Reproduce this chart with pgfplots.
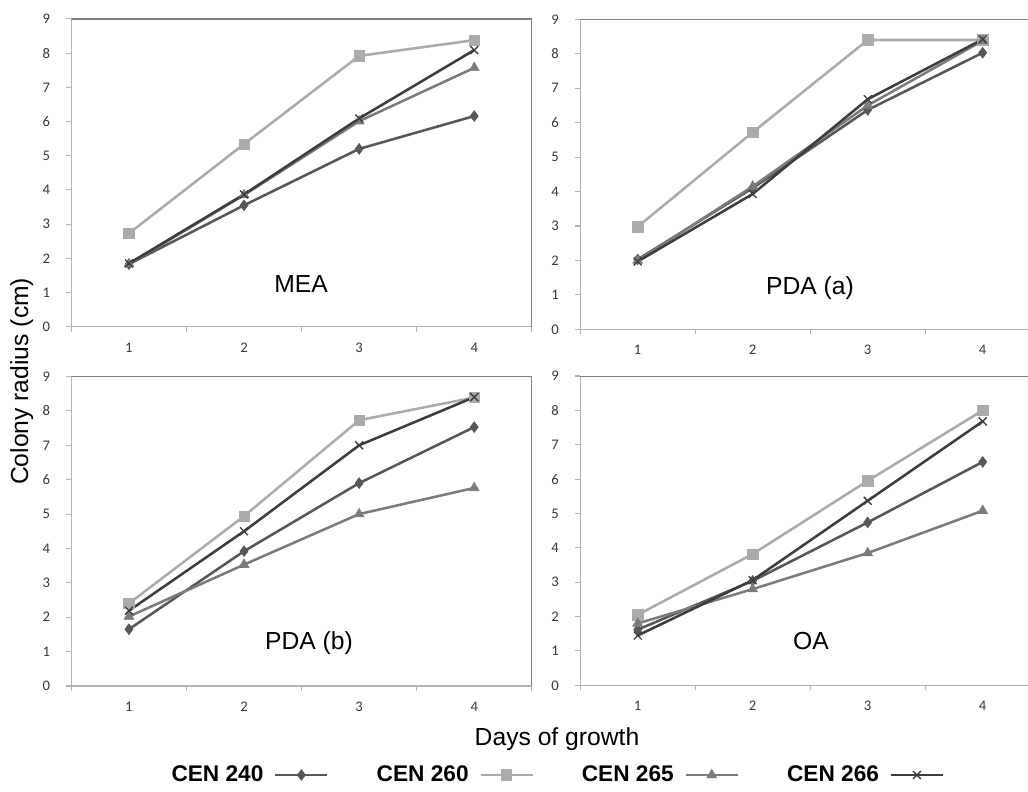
\documentclass[border=0pt]{standalone}
\usepackage{fontspec}
\setmainfont{Liberation Sans}
\newfontfamily\calibri{Carlito}
\usepackage{pgfplots}
\usepackage{pgfplotstable}
\pgfplotsset{compat=1.18}

\definecolor{c240}{HTML}{575757}
\definecolor{c260}{HTML}{ABABAB}
\definecolor{c265}{HTML}{7B7B7B}
\definecolor{c266}{HTML}{3D3D3D}
\definecolor{axisgray}{HTML}{B4B4B4}
\definecolor{framegray}{HTML}{7F7F7F}
\definecolor{tickgray}{HTML}{383838}

% colony radius (cm) per day of growth
\pgfplotstableread{
day c240 c260 c265 c266
1 1.83 2.73 1.83 1.85
2 3.55 5.34 3.85 3.87
3 5.20 7.92 6.01 6.09
4 6.16 8.38 7.57 8.09
}\mea
\pgfplotstableread{
day c240 c260 c265 c266
1 2.03 2.98 2.00 1.97
2 4.10 5.72 4.15 3.93
3 6.37 8.40 6.50 6.68
4 8.03 8.40 8.38 8.42
}\pdaa
\pgfplotstableread{
day c240 c260 c265 c266
1 1.65 2.40 2.02 2.19
2 3.92 4.94 3.53 4.50
3 5.90 7.73 5.00 7.00
4 7.53 8.39 5.76 8.40
}\pdab
\pgfplotstableread{
day c240 c260 c265 c266
1 1.62 2.05 1.80 1.45
2 3.04 3.82 2.80 3.06
3 4.74 5.95 3.85 5.37
4 6.50 8.00 5.08 7.68
}\oa

\pgfplotsset{
  panel/.style={
    scale only axis, anchor=south west,
    xmin=0.5, xmax=4.5, ymin=0, ymax=9,
    axis x line*=bottom, axis y line*=left,
    axis line style={draw=axisgray, line width=1pt},
    xtick={0.5,1.5,2.5,3.5,4.5}, xticklabels={},
    extra x ticks={1,2,3,4}, extra x tick labels={1,2,3,4},
    extra x tick style={major tick length=0pt},
    ytick={0,1,...,9},
    tick align=outside, major tick length=3.75pt,
    tick style={draw=axisgray, line width=0.8pt},
    ticklabel style={font=\calibri\fontsize{11}{13}\selectfont, text=tickgray},
    /pgf/number format/assume math mode=true,
    xticklabel style={anchor=center, yshift=-15.5pt},
    yticklabel style={anchor=center, xshift=-15pt},
  },
  s240/.style={c240, line width=1.9pt, mark=diamond*, mark size=4pt, mark options={solid, fill=c240, line width=0.5pt}},
  s260/.style={c260, line width=1.9pt, mark=square*, mark size=3.9pt, mark options={solid, fill=c260, line width=0.5pt}},
  s265/.style={c265, line width=1.9pt, mark=triangle*, mark size=4.2pt, mark options={solid, fill=c265, line width=0.5pt}},
  s266/.style={c266, line width=1.9pt, mark=x, mark size=4.2pt, mark options={solid, line width=1pt}},
}

\begin{document}
\begin{tikzpicture}
% MEA
\begin{axis}[panel, at={(53.55pt,348.98pt)}, width=345.3pt, height=230.8pt]
\addplot[s240] table[x=day, y=c240] {\mea};
\addplot[s260] table[x=day, y=c260] {\mea};
\addplot[s265] table[x=day, y=c265] {\mea};
\addplot[s266] table[x=day, y=c266] {\mea};
\draw[framegray, line width=1.2pt] (rel axis cs:0,1) -- (rel axis cs:1,1) -- (rel axis cs:1,0);
\end{axis}
% PDA (a)
\begin{axis}[panel, at={(435.15pt,347.0pt)}, width=335.85pt, height=232.5pt, xmax=4.394]
\addplot[s240] table[x=day, y=c240] {\pdaa};
\addplot[s260] table[x=day, y=c260] {\pdaa};
\addplot[s265] table[x=day, y=c265] {\pdaa};
\addplot[s266] table[x=day, y=c266] {\pdaa};
\draw[framegray, line width=1.2pt] (rel axis cs:0,1) -- (rel axis cs:1,1);
\end{axis}
% PDA (b), carries the legend
\begin{axis}[panel, at={(53.55pt,79.5pt)}, width=345.3pt, height=232.1pt,
    legend columns=4, legend plot pos=right,
    legend style={at={(1.0537,-0.2876)}, anchor=center, draw=none, fill=none,
      font=\bfseries\fontsize{17}{20}\selectfont,
      /tikz/every even column/.append style={column sep=34pt},
      /tikz/every odd column/.append style={column sep=6pt}},
    legend image code/.code={\draw[mark repeat=2, mark phase=2, #1] plot coordinates {(0pt,0pt) (19.5pt,0pt) (39pt,0pt)};}]
\addplot[s240] table[x=day, y=c240] {\pdab};
\addlegendentry{CEN 240}
\addplot[s260] table[x=day, y=c260] {\pdab};
\addlegendentry{CEN 260}
\addplot[s265] table[x=day, y=c265] {\pdab};
\addlegendentry{CEN 265}
\addplot[s266] table[x=day, y=c266] {\pdab};
\addlegendentry{CEN 266}
\draw[framegray, line width=1.2pt] (rel axis cs:0,1) -- (rel axis cs:1,1) -- (rel axis cs:1,0);
\end{axis}
% OA
\begin{axis}[panel, at={(435.15pt,80.0pt)}, width=335.85pt, height=232pt, xmax=4.394]
\addplot[s240] table[x=day, y=c240] {\oa};
\addplot[s260] table[x=day, y=c260] {\oa};
\addplot[s265] table[x=day, y=c265] {\oa};
\addplot[s266] table[x=day, y=c266] {\oa};
\draw[framegray, line width=1.2pt] (rel axis cs:0,1) -- (rel axis cs:1,1);
\end{axis}

\begin{scope}[every node/.style={font=\fontsize{18.5}{22}\selectfont, anchor=base}]
\node at (225.75pt,374.25pt) {MEA};
\node at (607.5pt,372.75pt) {PDA (a)};
\node at (231.75pt,106.5pt) {PDA (b)};
\node at (608.25pt,106.5pt) {OA};
\node at (417.75pt,34.5pt) {Days of growth};
\node[rotate=90, anchor=center] at (16.3pt,308pt) {Colony radius (cm)};
\end{scope}

\pgfresetboundingbox
\path[use as bounding box] (0,0) rectangle (771pt,594pt);
\end{tikzpicture}
\end{document}
